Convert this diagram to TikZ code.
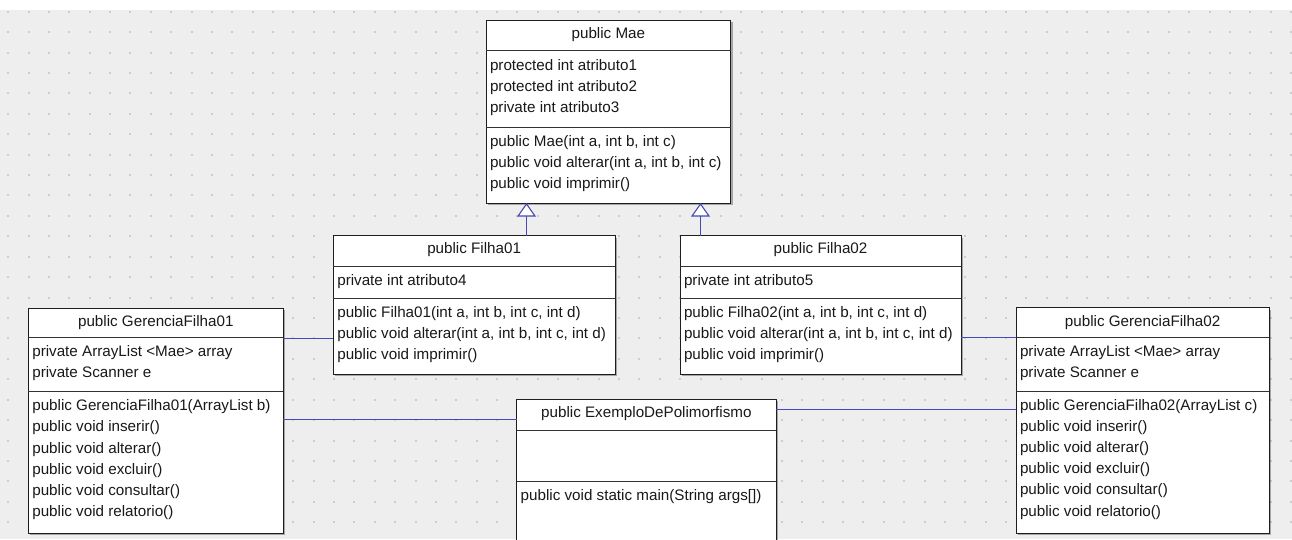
\documentclass[tikz,border=0pt]{standalone}
\usepackage{fontspec}
\setmainfont{Liberation Sans}
\usetikzlibrary{arrows.meta,shadows,calc}
\definecolor{bggray}{RGB}{238,238,238}
\definecolor{dotgray}{RGB}{205,205,205}
\definecolor{linkblue}{RGB}{72,72,185}
\definecolor{boxline}{RGB}{30,30,30}
\definecolor{sepline}{RGB}{50,50,50}
\begin{document}
\begin{tikzpicture}[x=1pt,y=-1pt,
  classbox/.style={draw=boxline, line width=1pt, fill=white, outer sep=0pt, inner sep=0pt,
    anchor=north west, drop shadow={shadow xshift=2pt, shadow yshift=-2pt, fill=black, opacity=0.3}},
  sepl/.style={draw=sepline, line width=1pt},
  txt/.style={inner sep=0pt, outer sep=0pt, font=\fontsize{15.2}{18}\selectfont, text=black!90},
  assoc/.style={draw=linkblue, line width=1.1pt},
  inh/.style={draw=linkblue, line width=1.1pt, -{Triangle[length=13.5pt, width=18.7pt, fill=white]}}
]
\useasboundingbox (0,0) rectangle (1292,539);
\clip (0,0) rectangle (1292,539);
% background
\fill[white] (0,0) rectangle (1292,10);
\fill[bggray] (0,10) rectangle (1292,539);
\foreach \i in {0,...,63}{
  \foreach \j in {0,...,25}{
    \fill[dotgray] (7.3+20.36*\i, 10.7+20.42*\j) rectangle ++(2,2);
  }
}

% ---- Mae ----
\node[classbox, minimum width=244.7pt, minimum height=183pt] (mae) at (486,20) {};
\draw[sepl] ($(mae.north west)+(0,30.7)$) -- ($(mae.north east)+(0,30.7)$);
\draw[sepl] ($(mae.north west)+(0,107)$) -- ($(mae.north east)+(0,107)$);
\node[txt, anchor=base] (maeh) at ($(mae.north)+(0,18.5)$) {public Mae};
\node[txt, anchor=base west] (maea1) at ($(mae.north west)+(4,50)$) {protected int atributo1};
\node[txt, anchor=base west] (maea2) at ($(mae.north west)+(4,71)$) {protected int atributo2};
\node[txt, anchor=base west] (maea3) at ($(mae.north west)+(4,92)$) {private int atributo3};
\node[txt, anchor=base west] (maem1) at ($(mae.north west)+(4,126)$) {public Mae(int a, int b, int c)};
\node[txt, anchor=base west] (maem2) at ($(mae.north west)+(4,147)$) {public void alterar(int a, int b, int c)};
\node[txt, anchor=base west] (maem3) at ($(mae.north west)+(4,168)$) {public void imprimir()};

% ---- Filha01 ----
\node[classbox, minimum width=281.7pt, minimum height=138.6pt] (f1) at (333.3,235.7) {};
\draw[sepl] ($(f1.north west)+(0,31)$) -- ($(f1.north east)+(0,31)$);
\draw[sepl] ($(f1.north west)+(0,62.6)$) -- ($(f1.north east)+(0,62.6)$);
\node[txt, anchor=base] (f1h) at ($(f1.north)+(0,17.8)$) {public Filha01};
\node[txt, anchor=base west] (f1a1) at ($(f1.north west)+(4,49.3)$) {private int atributo4};
\node[txt, anchor=base west] (f1m1) at ($(f1.north west)+(4,82)$) {public Filha01(int a, int b, int c, int d)};
\node[txt, anchor=base west] (f1m2) at ($(f1.north west)+(4,103)$) {public void alterar(int a, int b, int c, int d)};
\node[txt, anchor=base west] (f1m3) at ($(f1.north west)+(4,124)$) {public void imprimir()};

% ---- Filha02 ----
\node[classbox, minimum width=281pt, minimum height=138.6pt] (f2) at (680,235.7) {};
\draw[sepl] ($(f2.north west)+(0,31)$) -- ($(f2.north east)+(0,31)$);
\draw[sepl] ($(f2.north west)+(0,62.6)$) -- ($(f2.north east)+(0,62.6)$);
\node[txt, anchor=base] (f2h) at ($(f2.north)+(0,17.8)$) {public Filha02};
\node[txt, anchor=base west] (f2a1) at ($(f2.north west)+(4,49.3)$) {private int atributo5};
\node[txt, anchor=base west] (f2m1) at ($(f2.north west)+(4,82)$) {public Filha02(int a, int b, int c, int d)};
\node[txt, anchor=base west] (f2m2) at ($(f2.north west)+(4,103)$) {public void alterar(int a, int b, int c, int d)};
\node[txt, anchor=base west] (f2m3) at ($(f2.north west)+(4,124)$) {public void imprimir()};

% ---- GerenciaFilha01 ----
\node[classbox, minimum width=255pt, minimum height=225pt] (g1) at (28.3,308.3) {};
\draw[sepl] ($(g1.north west)+(0,29)$) -- ($(g1.north east)+(0,29)$);
\draw[sepl] ($(g1.north west)+(0,83.4)$) -- ($(g1.north east)+(0,83.4)$);
\node[txt, anchor=base] (g1h) at ($(g1.north)+(0,18.4)$) {public GerenciaFilha01};
\node[txt, anchor=base west] (g1a1) at ($(g1.north west)+(4,48.4)$) {private ArrayList <Mae> array};
\node[txt, anchor=base west] (g1a2) at ($(g1.north west)+(4,69.2)$) {private Scanner e};
\node[txt, anchor=base west] (g1m1) at ($(g1.north west)+(4,102.4)$) {public GerenciaFilha01(ArrayList b)};
\node[txt, anchor=base west] (g1m2) at ($(g1.north west)+(4,123.6)$) {public void inserir()};
\node[txt, anchor=base west] (g1m3) at ($(g1.north west)+(4,144.8)$) {public void alterar()};
\node[txt, anchor=base west] (g1m4) at ($(g1.north west)+(4,166)$) {public void excluir()};
\node[txt, anchor=base west] (g1m5) at ($(g1.north west)+(4,187.2)$) {public void consultar()};
\node[txt, anchor=base west] (g1m6) at ($(g1.north west)+(4,208.4)$) {public void relatorio()};

% ---- GerenciaFilha02 ----
\node[classbox, minimum width=253.3pt, minimum height=225.6pt] (g2) at (1016,307.7) {};
\draw[sepl] ($(g2.north west)+(0,30)$) -- ($(g2.north east)+(0,30)$);
\draw[sepl] ($(g2.north west)+(0,84)$) -- ($(g2.north east)+(0,84)$);
\node[txt, anchor=base] (g2h) at ($(g2.north)+(0,18.6)$) {public GerenciaFilha02};
\node[txt, anchor=base west] (g2a1) at ($(g2.north west)+(4,49)$) {private ArrayList <Mae> array};
\node[txt, anchor=base west] (g2a2) at ($(g2.north west)+(4,70.2)$) {private Scanner e};
\node[txt, anchor=base west] (g2m1) at ($(g2.north west)+(4,102.3)$) {public GerenciaFilha02(ArrayList c)};
\node[txt, anchor=base west] (g2m2) at ($(g2.north west)+(4,123.5)$) {public void inserir()};
\node[txt, anchor=base west] (g2m3) at ($(g2.north west)+(4,144.7)$) {public void alterar()};
\node[txt, anchor=base west] (g2m4) at ($(g2.north west)+(4,165.9)$) {public void excluir()};
\node[txt, anchor=base west] (g2m5) at ($(g2.north west)+(4,187.1)$) {public void consultar()};
\node[txt, anchor=base west] (g2m6) at ($(g2.north west)+(4,208.3)$) {public void relatorio()};

% ---- ExemploDePolimorfismo ----
\node[classbox, minimum width=259.3pt, minimum height=160pt] (ex) at (516.7,399) {};
\draw[sepl] ($(ex.north west)+(0,31)$) -- ($(ex.north east)+(0,31)$);
\draw[sepl] ($(ex.north west)+(0,82.7)$) -- ($(ex.north east)+(0,82.7)$);
\node[txt, anchor=base] (exh) at ($(ex.north)+(0,18.3)$) {public ExemploDePolimorfismo};
\node[txt, anchor=base west] (exm1) at ($(ex.north west)+(4,101.7)$) {public void static main(String args[])};

% ---- connectors ----
\coordinate (ya) at (0,338.5);
\coordinate (yb) at (0,419.5);
\coordinate (yc) at (0,409.5);
\coordinate (yd) at (0,337.5);
\draw[assoc] (g1.east |- ya) -- (f1.west |- ya);
\draw[assoc] (g1.east |- yb) -- (ex.west |- yb);
\draw[assoc] (ex.east |- yc) -- (g2.west |- yc);
\draw[assoc] (f2.east |- yd) -- (g2.west |- yd);
\coordinate (xa) at (526.5,0);
\coordinate (xb) at (700.5,0);
\draw[inh] (xa |- f1.north) -- (xa |- mae.south);
\draw[inh] (xb |- f2.north) -- (xb |- mae.south);
\end{tikzpicture}
\end{document}
